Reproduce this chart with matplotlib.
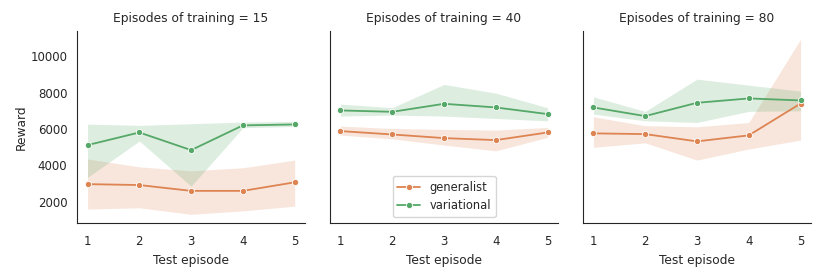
import numpy as np
import matplotlib.pyplot as plt
import seaborn as sns

sns.set_style("white")
plt.rcParams['font.family'] = ['DejaVu Sans']

episodes = [1, 2, 3, 4, 5]
training = [15, 40, 80]

# generalist: mean, ci low, ci high per panel
gen_mean = [[2970, 2920, 2600, 2600, 3070],
            [5885, 5700, 5500, 5390, 5810],
            [5760, 5720, 5320, 5650, 7400]]
gen_lo = [[1600, 1670, 1310, 1500, 1760],
          [5665, 5460, 5115, 4800, 5540],
          [4990, 5240, 4290, 4900, 5390]]
gen_hi = [[4350, 3920, 3700, 3870, 4290],
          [6160, 6030, 5980, 5940, 6090],
          [6670, 6180, 6120, 6360, 10930]]

var_mean = [[5115, 5810, 4840, 6200, 6250],
            [7020, 6945, 7385, 7185, 6820],
            [7185, 6710, 7440, 7680, 7570]]
var_lo = [[3340, 5340, 2860, 6070, 6140],
          [6710, 6765, 6710, 6580, 6450],
          [6820, 6450, 6360, 6970, 7000]]
var_hi = [[6270, 6200, 6290, 6380, 6420],
          [7370, 7170, 8450, 7970, 7170],
          [7770, 6965, 8740, 8410, 8080]]

series = [("generalist", "#DD8452", gen_mean, gen_lo, gen_hi),
          ("variational", "#55A868", var_mean, var_lo, var_hi)]

def main():
    fig, axes = plt.subplots(1, 3, figsize=(8.3, 2.77), dpi=100, sharey=True)
    fig.subplots_adjust(left=0.093, right=0.977, top=0.889, bottom=0.196, wspace=0.11)

    for i, ax in enumerate(axes):
        for name, col, m, lo, hi in series:
            ax.fill_between(episodes, lo[i], hi[i], color=col, alpha=0.2, linewidth=0)
            ax.plot(episodes, m[i], color=col, marker='o', markersize=4.5,
                    markeredgecolor='white', markeredgewidth=0.6, linewidth=1.3, label=name)
        ax.set_title(f"Episodes of training = {training[i]}", fontsize=8.8)
        ax.set_xlabel("Test episode", fontsize=8.8)
        ax.set_xticks(episodes)
        ax.tick_params(labelsize=8.5)
        ax.tick_params(axis='x', pad=5.5)
        for s in ['top', 'right']:
            ax.spines[s].set_visible(False)
        ax.spines['left'].set_color('#262626')
        ax.spines['bottom'].set_color('#262626')

    axes[0].set_ylim(850, 11400)
    axes[0].set_yticks([2000, 4000, 6000, 8000, 10000])
    axes[0].set_ylabel("Reward", fontsize=8.8, labelpad=2)
    axes[1].legend(loc='lower center', fontsize=8.3)

    fig.savefig("out.png")

if __name__ == "__main__":
    main()
